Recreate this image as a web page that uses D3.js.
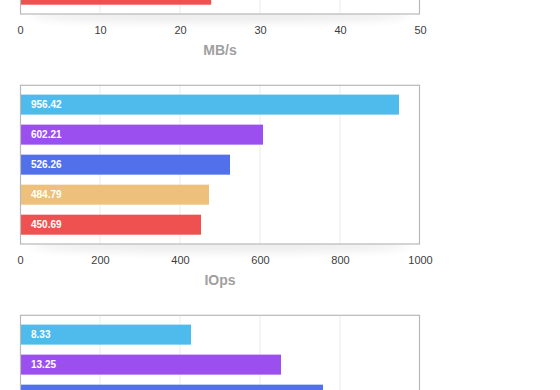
<!DOCTYPE html>
<html><head><meta charset="utf-8">
<script src="https://cdn.jsdelivr.net/npm/d3@7"></script>
<style>
html,body{margin:0;padding:0;background:#fff;overflow:hidden}
svg{display:block;font-family:"Liberation Sans",Arial,Helvetica,sans-serif}
</style></head><body>
<svg id="c" width="560" height="390"></svg>
<script>
// series (same order in every panel)
const series = ["s1","s2","s3","s4","s5"];
const colors = ["#4fbbec","#9b4fee","#5170ea","#edc07b","#ef5050"];

// panel 1 (throughput) — only the last bar is in view
const mbValues = [null,null,null,null,23.9];
const mbLabels = ["","","","",""];
const mbTicks = [0,10,20,30,40,50];

// panel 2 (IOps)
const iopsValues = [947.5,607.5,525,472.5,452.5];
const iopsLabels = ["956.42","602.21","526.26","484.79","450.69"];
const iopsTicks = [0,200,400,600,800,1000];

// panel 3 — only the first three bars are in view, its axis is below the page
const p3Values = [8.55,13.05,15.15,null,null];
const p3Labels = ["8.33","13.25","","",""];
const p3Ticks = [0,4,8,12,16,20];

const panels = [
  {values:mbValues, labels:mbLabels, ticks:mbTicks, title:"MB/s", top:-144.7, axis:true},
  {values:iopsValues, labels:iopsLabels, ticks:iopsTicks, title:"IOps", top:85.3, axis:true},
  {values:p3Values, labels:p3Labels, ticks:p3Ticks, title:"", top:315.3, axis:false}
];

const svg = d3.select("#c");
const defs = svg.append("defs");
defs.append("filter").attr("id","blur").attr("x","-20%").attr("y","-200%").attr("width","140%").attr("height","500%")
  .append("feGaussianBlur").attr("stdDeviation",4);

const left = 20, right = 420, H = 158.7;

panels.forEach(p => {
  const g = svg.append("g").attr("transform",`translate(0,${p.top})`);
  const x = d3.scaleLinear().domain([p.ticks[0], p.ticks[p.ticks.length-1]]).range([left,right]);
  const y = d3.scaleBand().domain(series).range([0,H]).paddingInner(1/3).paddingOuter(0.31);

  if (p.axis) {
    g.append("ellipse").attr("cx",(left+right)/2).attr("cy",H+2).attr("rx",190).attr("ry",7)
      .attr("fill","#000").attr("opacity",0.07).attr("filter","url(#blur)");
  }
  g.append("rect").attr("x",left).attr("y",0).attr("width",right-left).attr("height",H).attr("fill","#fff");

  g.selectAll("line.grid").data(p.ticks.slice(1,-1)).enter().append("line")
    .attr("x1",d=>x(d)).attr("x2",d=>x(d)).attr("y1",0).attr("y2",H)
    .attr("stroke","#ebebeb").attr("stroke-width",1);

  const idx = series.map((s,i)=>i).filter(i=>p.values[i]!=null);
  g.selectAll("rect.bar").data(idx).enter().append("rect")
    .attr("x",x(0)+0.7).attr("y",i=>y(series[i]))
    .attr("width",i=>x(p.values[i])-x(0)-0.7).attr("height",y.bandwidth())
    .attr("fill",i=>colors[i]);
  g.selectAll("text.lbl").data(idx.filter(i=>p.labels[i])).enter().append("text")
    .attr("x",x(0)+11).attr("y",i=>y(series[i])+y.bandwidth()/2).attr("dy","0.35em")
    .attr("fill","#fff").attr("font-size",10).attr("font-weight","bold")
    .text(i=>p.labels[i]);

  g.append("rect").attr("x",left+0.5).attr("y",0).attr("width",right-left-1).attr("height",H)
    .attr("fill","none").attr("stroke","#b8b8b8").attr("stroke-width",1.2);

  if (p.axis) {
    const ax = g.append("g").attr("transform",`translate(0,${H})`)
      .call(d3.axisBottom(x).tickValues(p.ticks).tickSize(0).tickPadding(0).tickFormat(d3.format("d")));
    ax.select(".domain").remove();
    ax.selectAll("text").attr("y",20).attr("dy",0).attr("font-size",11)
      .attr("fill","#3c3c3c").attr("font-family","Liberation Sans, Arial, sans-serif");
  }
  if (p.title) {
    g.append("text").attr("x",(left+right)/2).attr("y",H+41).attr("text-anchor","middle")
      .attr("font-size",14).attr("font-weight","bold").attr("fill","#a0a0a0").text(p.title);
  }
});
</script></body></html>
